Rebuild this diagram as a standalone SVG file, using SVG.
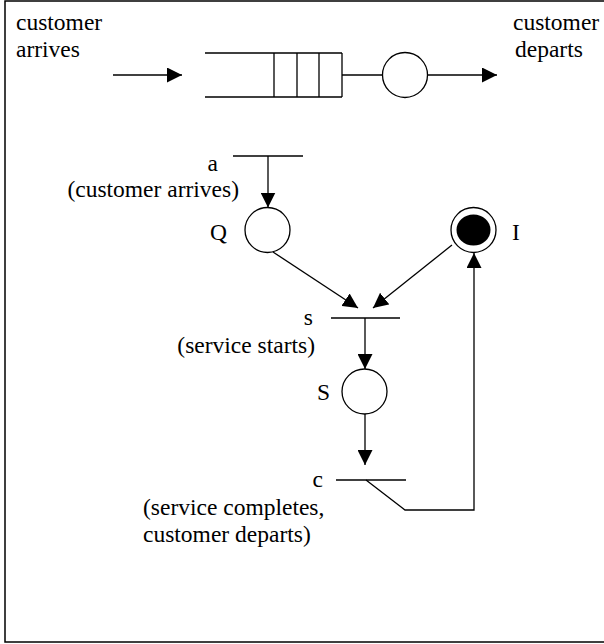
<svg xmlns="http://www.w3.org/2000/svg" width="604" height="644" viewBox="0 0 604 644">
  <style>
    .ln { stroke: #000; stroke-width: 1.3; fill: none; }
    .pl { stroke: #000; stroke-width: 1.3; fill: #fff; }
    .tx { font-family: "Liberation Serif", "Times New Roman", serif; font-size: 23.5px; fill: #000; }
    .end { text-anchor: end; }
  </style>
  <defs>
    <marker id="arrow" markerUnits="userSpaceOnUse" markerWidth="15" markerHeight="15" refX="15" refY="7.5" orient="auto">
      <path d="M0,0 L15,7.5 L0,15 z" fill="#000"/>
    </marker>
  </defs>

  <rect x="0" y="0" width="604" height="644" fill="#fff"/>
  <!-- frame -->
  <rect x="5" y="1" width="610" height="641" fill="none" stroke="#000" stroke-width="1.5"/>

  <!-- queueing system -->
  <g id="queue-labels">
    <text class="tx" x="16" y="30">customer</text>
    <text class="tx" x="16" y="57">arrives</text>
    <text class="tx" x="513" y="30">customer</text>
    <text class="tx" x="515" y="57">departs</text>
  </g>
  <g id="queue">
    <path class="ln" d="M205,53 H342 M205,97 H342 M274,53 V97 M297,53 V97 M319,53 V97 M342,53 V97"/>
  </g>
  <g id="server">
    <circle class="pl" cx="405" cy="75" r="22.5"/>
  </g>

  <!-- Petri net nodes -->
  <g id="t-a">
    <line class="ln" x1="233" y1="156" x2="303" y2="156"/>
    <text class="tx end" x="218" y="171">a</text>
    <text class="tx end" x="239" y="197">(customer arrives)</text>
  </g>
  <g id="p-Q">
    <circle class="pl" cx="267.5" cy="230" r="22.5"/>
    <text class="tx end" x="227" y="240">Q</text>
  </g>
  <g id="p-I">
    <circle class="pl" cx="473.5" cy="230" r="22.5"/>
    <ellipse cx="473.5" cy="230" rx="17" ry="15.5" fill="#000"/>
    <text class="tx" x="512" y="240">I</text>
  </g>
  <g id="t-s">
    <line class="ln" x1="331" y1="318" x2="400" y2="318"/>
    <text class="tx end" x="313" y="325">s</text>
    <text class="tx end" x="315" y="353">(service starts)</text>
  </g>
  <g id="p-S">
    <circle class="pl" cx="364.5" cy="391.5" r="22.5"/>
    <text class="tx end" x="330" y="400">S</text>
  </g>
  <g id="t-c">
    <line class="ln" x1="336" y1="480" x2="406" y2="480"/>
    <text class="tx end" x="323" y="487">c</text>
    <text class="tx" x="143" y="515">(service completes,</text>
    <text class="tx" x="143" y="542">customer departs)</text>
  </g>

  <!-- connectors -->
  <g id="connectors">
    <line class="ln" x1="113" y1="75" x2="182" y2="75" marker-end="url(#arrow)"/>
    <line class="ln" x1="342" y1="75" x2="382.5" y2="75"/>
    <line class="ln" x1="427.5" y1="75" x2="497" y2="75" marker-end="url(#arrow)"/>
    <line class="ln" x1="268" y1="156" x2="268" y2="207.5" marker-end="url(#arrow)"/>
    <line class="ln" x1="273" y1="252" x2="358" y2="308" marker-end="url(#arrow)"/>
    <line class="ln" x1="452" y1="245" x2="373" y2="308" marker-end="url(#arrow)"/>
    <line class="ln" x1="365" y1="318" x2="365" y2="369" marker-end="url(#arrow)"/>
    <line class="ln" x1="365" y1="414" x2="365" y2="465" marker-end="url(#arrow)"/>
    <polyline class="ln" points="366,480 405,510 474,510 474,253" marker-end="url(#arrow)"/>
  </g>
</svg>
